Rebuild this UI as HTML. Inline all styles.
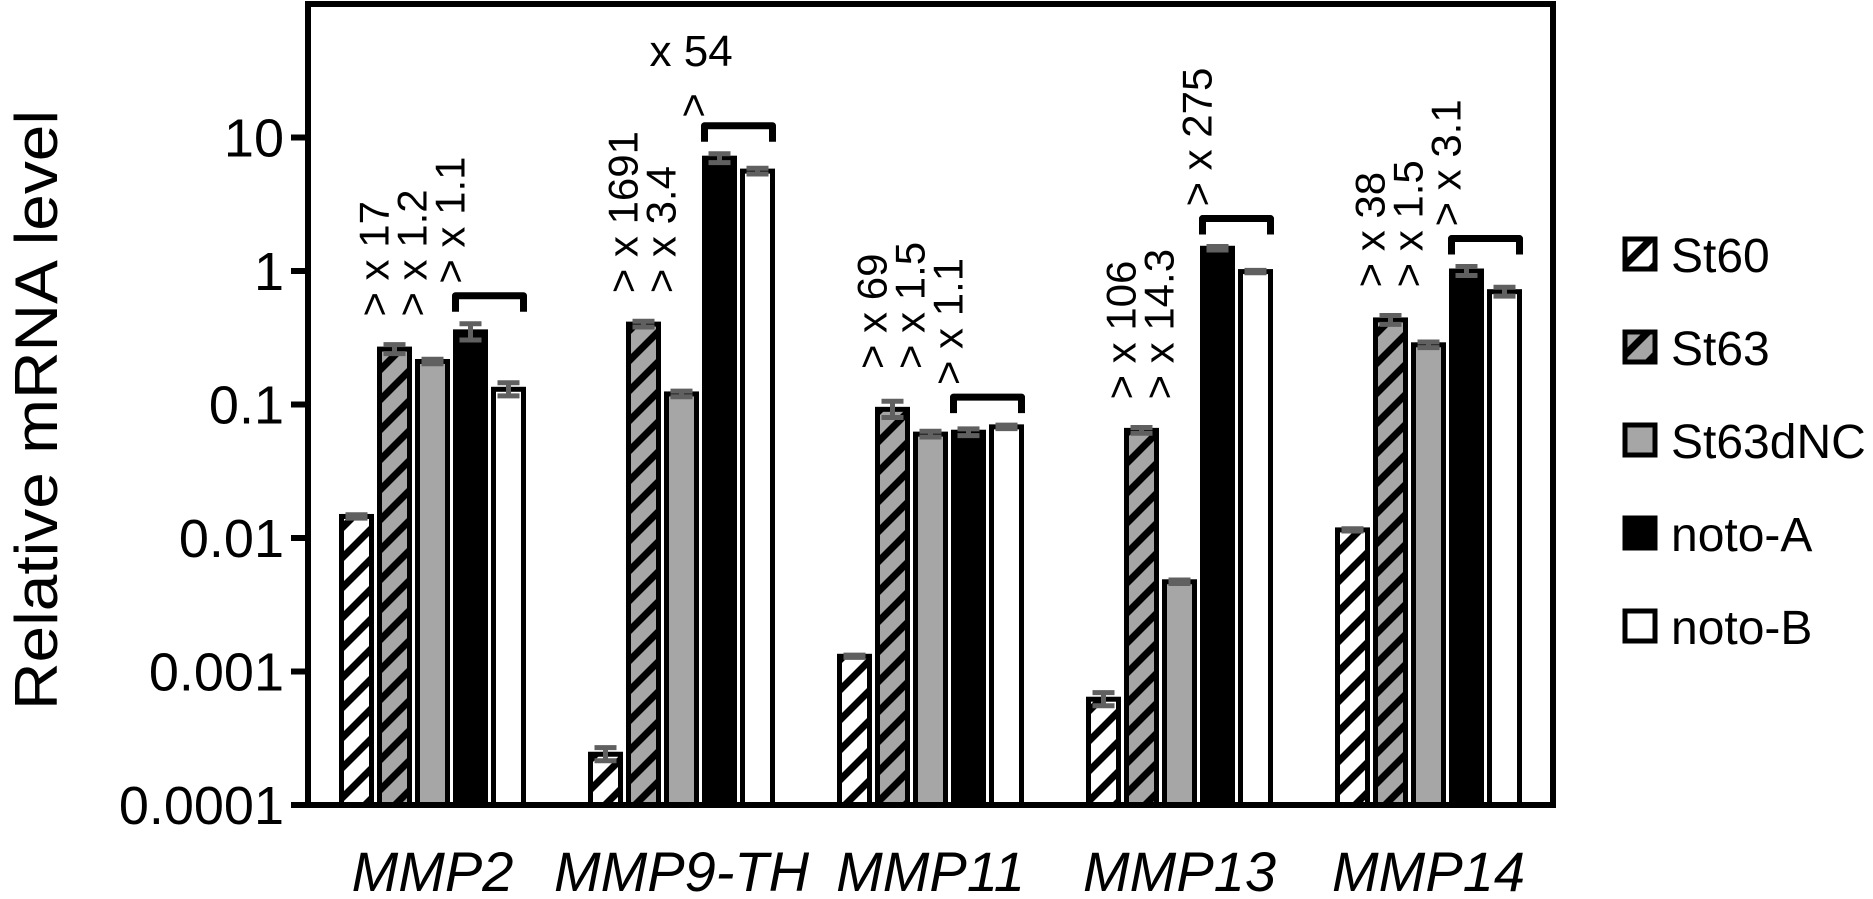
<!DOCTYPE html>
<html><head><meta charset="utf-8"><style>
html,body{margin:0;padding:0;background:#fff;}
svg{display:block;font-family:"Liberation Sans",sans-serif;}
</style></head><body>
<svg id="chart" width="1873" height="899" viewBox="0 0 1873 899" xmlns="http://www.w3.org/2000/svg">
<defs>
<pattern id="hatchW" patternUnits="userSpaceOnUse" width="30" height="30">
<rect width="30" height="30" fill="#fff"/>
<path d="M-5,35 L35,-5 M-20,20 L20,-20 M10,50 L50,10" stroke="#000" stroke-width="7"/>
</pattern>
<pattern id="hatchG" patternUnits="userSpaceOnUse" width="30" height="30">
<rect width="30" height="30" fill="#a6a6a6"/>
<path d="M-5,35 L35,-5 M-20,20 L20,-20 M10,50 L50,10" stroke="#000" stroke-width="7"/>
</pattern>
</defs>
<g id="plot"></g>
</svg>
<script>
const categories = ["MMP2","MMP9-TH","MMP11","MMP13","MMP14"];
const seriesNames = ["St60","St63","St63dNC","noto-A","noto-B"];
const st60 = [0.0145,0.00024,0.0013,0.00062,0.0115];
const st63 = [0.26,0.40,0.092,0.064,0.43];
const st63dNC = [0.21,0.12,0.060,0.0047,0.28];
const notoA = [0.35,7.0,0.062,1.48,1.0];
const notoB = [0.13,5.6,0.068,0.99,0.70];
const errFrac = [
  [0.03,0.12,0.02,0.12,0.02],
  [0.08,0.05,0.15,0.05,0.08],
  [0.04,0.05,0.05,0.03,0.05],
  [0.15,0.08,0.06,0.03,0.08],
  [0.12,0.05,0.03,0.02,0.08]
];
const yTicks = [0.0001,0.001,0.01,0.1,1,10];
const yTickLabels = ["0.0001","0.001","0.01","0.1","1","10"];
const annoLabels = [
  ["> x 17","> x 1.2","> x 1.1"],
  ["> x 1691","> x 3.4",""],
  ["> x 69","> x 1.5","> x 1.1"],
  ["> x 106","> x 14.3","> x 275"],
  ["> x 38","> x 1.5","> x 3.1"]
];

const NS="http://www.w3.org/2000/svg";
const g=document.getElementById('plot');
const L=308,R=1553,T=4,B=805;
const yMin=-4,yMax=2;
function y(v){return B-(Math.log10(v)-yMin)/(yMax-yMin)*(B-T);}
const groupW=(R-L)/categories.length;
function gx(i){return L+groupW*(i+0.5);}
const pitch=38,bw=34;
function bx(i,s){return gx(i)+(s-2)*pitch;}
function el(tag,attrs,parent){const e=document.createElementNS(NS,tag);for(const k in attrs)e.setAttribute(k,attrs[k]);(parent||g).appendChild(e);return e;}

const series=[st60,st63,st63dNC,notoA,notoB];
const fills=["url(#hatchW)","url(#hatchG)","#a6a6a6","#000","#fff"];

series.forEach((vals,s)=>{
  vals.forEach((v,i)=>{
    const top=y(v);
    const r=el('rect',{x:bx(i,s)-bw/2+2,y:top,width:bw-4,height:B-top,fill:fills[s],stroke:'#000','stroke-width':5});
    
    
    const e=errFrac[s][i];
    const y1=y(v*(1+e)),y2=y(v/(1+e));
    const eb=el('path',{d:`M${bx(i,s)},${y1}V${y2}M${bx(i,s)-11},${y1}H${bx(i,s)+11}M${bx(i,s)-11},${y2}H${bx(i,s)+11}`,stroke:'#606060','stroke-width':5,fill:'none'});
    
    
  });
});

const fr=el('rect',{x:L,y:T,width:R-L,height:B-T,fill:'none',stroke:'#000','stroke-width':6});



yTicks.forEach((v,k)=>{
  const t=el('line',{x1:291,x2:L,y1:y(v),y2:y(v),stroke:'#000','stroke-width':6});
  
  
  const tx=el('text',{x:284,y:y(v)+19,'text-anchor':'end','font-size':54,fill:'#000'});
  tx.textContent=yTickLabels[k];
  
  
});

categories.forEach((c,i)=>{
  const t=el('text',{x:gx(i),y:891,'text-anchor':'middle','font-size':56,'font-style':'italic',fill:'#000'});
  t.textContent=c;
  
  
});

const yt=el('text',{transform:'translate(57,410) rotate(-90)','text-anchor':'middle','font-size':60,textLength:600,lengthAdjust:'spacingAndGlyphs',fill:'#000'});
yt.textContent='Relative mRNA level';



categories.forEach((c,i)=>{
  const bracketTop = y(Math.max(notoA[i],notoB[i])*(1+errFrac[Math.max(notoA[i],notoB[i])===notoA[i]?3:4][i]))-28;
  const x1=bx(i,3)-bw/2+2, x2=bx(i,4)+bw/2-2;
  const br=el('path',{d:`M${x1},${bracketTop+16}V${bracketTop}H${x2}V${bracketTop+16}`,stroke:'#000','stroke-width':7,fill:'none','stroke-linejoin':'round'});
  
  
  const baseTop=Math.min(y(st63[i]*(1+errFrac[1][i])),y(st63dNC[i]*(1+errFrac[2][i])),annoLabels[i][2]&&i!==0&&i!==3&&i!==4?bracketTop:9999)-28;
  [1,2].forEach((s,k)=>{
    const a=el('text',{transform:`translate(${bx(i,s)-6},${baseTop}) rotate(-90)`,'font-size':42,fill:'#000'});
    a.textContent=annoLabels[i][k];
    
    
  });
  if(annoLabels[i][2]){
    const a=el('text',{transform:`translate(${bx(i,3)-6},${bracketTop-12}) rotate(-90)`,'font-size':42,fill:'#000'});
    a.textContent=annoLabels[i][2];
    
    
  } else {
    const a=el('text',{transform:`translate(${bx(i,3)-12},${bracketTop-8}) rotate(-90)`,'font-size':42,fill:'#000'});
    a.textContent='>';
    
    
    const b=el('text',{x:bx(i,3)-70,y:66,'font-size':44,fill:'#000'});
    b.textContent='x 54';
    
    
  }
});

const legFills=["url(#hatchW)","url(#hatchG)","#a6a6a6","#000","#fff"];
seriesNames.forEach((n,s)=>{
  const cy=255+s*93;
  const r=el('rect',{x:1625,y:cy-16,width:30,height:30,fill:legFills[s],stroke:'#000','stroke-width':5});
  
  
  const t=el('text',{x:1671,y:cy+17,'font-size':48,fill:'#000'});
  t.textContent=n;
  
  
});
</script>
</body></html>
